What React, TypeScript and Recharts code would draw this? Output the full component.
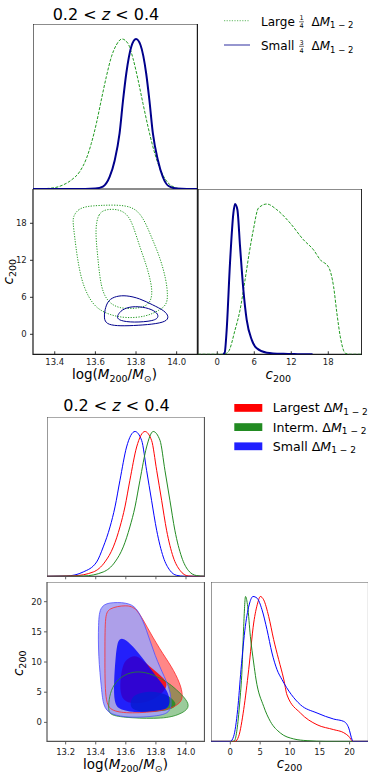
import React from 'react';
import { ComposedChart, Line, Area, XAxis, YAxis, ReferenceArea } from 'recharts';

type Pt = [number, number];
const rows = (pts: Pt[]) => pts.map(([x, y]) => ({ x, y }));

const FONT = '"DejaVu Sans", "Liberation Sans", sans-serif';

// ---------- tick values ----------
const upperMassTicks = [13.4, 13.6, 13.8, 14.0];
const upperConcTicks = [0, 6, 12, 18];
const lowerMassTicks = [13.2, 13.4, 13.6, 13.8, 14.0];
const lowerConcTicks = [0, 5, 10, 15, 20];

// ---------- axis ranges ----------
const upperMassRange: [number, number] = [13.293, 14.102];
const upperConcRange: [number, number] = [-3.24, 23.56];
const upperConcRangeX: [number, number] = [-3.13, 23.42];
const densityRange: [number, number] = [0, 1.1];
const lowerMassRange: [number, number] = [13.076, 14.123];
const lowerConcRange: [number, number] = [-3.15, 23.26];
const lowerConcRangeX: [number, number] = [-3.24, 23.17];

// ---------- upper figure: 1D marginals ----------
const upperMassLarge: Pt[] = [
  [13.293, 0], [13.342, 0.002], [13.4, 0.009], [13.441, 0.027], [13.482, 0.06], [13.523, 0.116],
  [13.556, 0.204], [13.58, 0.304], [13.605, 0.438], [13.629, 0.593], [13.654, 0.749], [13.679, 0.882],
  [13.703, 0.96], [13.731, 1.0], [13.76, 0.971], [13.785, 0.871], [13.81, 0.727], [13.834, 0.571],
  [13.859, 0.415], [13.883, 0.282], [13.908, 0.171], [13.932, 0.093], [13.957, 0.042], [13.982, 0.016],
  [14.015, 0.002], [14.05, 0], [14.102, 0],
];
const upperMassSmall: Pt[] = [
  [13.293, 0], [13.55, 0], [13.6, 0.003], [13.637, 0.016], [13.67, 0.08], [13.695, 0.19], [13.719, 0.37],
  [13.736, 0.59], [13.752, 0.77], [13.777, 0.95], [13.8, 1.0], [13.822, 0.96], [13.85, 0.77], [13.866, 0.59],
  [13.883, 0.37], [13.908, 0.19], [13.932, 0.08], [13.96, 0.02], [14.0, 0.003], [14.05, 0], [14.102, 0],
];
const upperConcLarge: Pt[] = [
  [-3.13, 0], [1.0, 0], [1.79, 0.017], [2.88, 0.162], [3.69, 0.295], [4.5, 0.495], [5.2, 0.68], [5.85, 0.829],
  [6.67, 0.973], [8.03, 1.0], [9.66, 0.962], [11.82, 0.873], [13.98, 0.762], [15.61, 0.695], [16.7, 0.629],
  [18.05, 0.58], [18.86, 0.451], [19.4, 0.273], [19.95, 0.117], [20.76, 0.007], [21.5, 0], [23.42, 0],
];
const upperConcSmall: Pt[] = [
  [0.95, 0], [1.2, 0.01], [1.52, 0.162], [2.06, 0.607], [2.61, 0.94], [2.88, 1.0], [3.26, 0.962], [3.69, 0.718],
  [4.23, 0.429], [4.77, 0.229], [5.59, 0.096], [6.4, 0.04], [8.03, 0.011], [10.74, 0.003], [13.0, 0.001], [15.45, 0],
];

// ---------- upper figure: 2D contours (logM, c200) ----------
const upperLargeOuter: Pt[] = [
  [13.49, 19.08], [13.514, 20.27], [13.556, 20.76], [13.621, 20.9], [13.703, 21.0], [13.785, 20.7],
  [13.834, 19.08], [13.875, 15.84], [13.917, 12.59], [13.949, 8.81], [13.957, 6.11], [13.949, 4.75],
  [13.917, 3.94], [13.851, 2.86], [13.752, 2.59], [13.67, 3.13], [13.605, 4.21], [13.564, 6.11],
  [13.531, 8.81], [13.51, 12.59], [13.498, 15.84], [13.49, 18.0],
];
const upperLargeInner: Pt[] = [
  [13.599, 16.91], [13.613, 19.62], [13.654, 20.32], [13.719, 20.27], [13.76, 19.35], [13.785, 17.73],
  [13.818, 14.22], [13.851, 11.24], [13.875, 8.27], [13.88, 6.38], [13.867, 5.02], [13.834, 4.38],
  [13.785, 4.16], [13.719, 4.21], [13.67, 5.02], [13.637, 6.65], [13.621, 9.35], [13.61, 13.13],
];
const upperSmallOuter: Pt[] = [
  [13.646, 3.94], [13.662, 5.56], [13.703, 6.21], [13.752, 6.32], [13.818, 5.83], [13.883, 4.75],
  [13.941, 3.83], [13.962, 2.86], [13.949, 2.05], [13.883, 1.62], [13.785, 1.4], [13.703, 1.35],
  [13.654, 1.67], [13.642, 2.59],
];
const upperSmallInner: Pt[] = [
  [13.711, 3.13], [13.727, 3.94], [13.777, 4.59], [13.851, 4.38], [13.9, 3.67], [13.913, 2.86],
  [13.892, 2.16], [13.785, 1.89], [13.719, 2.21], [13.706, 2.75],
];

// ---------- lower figure: 1D marginals ----------
const lowerMassLargest: Pt[] = [
  [13.076, 0], [13.25, 0.003], [13.384, 0.03], [13.461, 0.099], [13.517, 0.203], [13.561, 0.341],
  [13.594, 0.479], [13.627, 0.663], [13.672, 0.893], [13.727, 1.0], [13.771, 0.939], [13.805, 0.732],
  [13.838, 0.525], [13.871, 0.318], [13.915, 0.133], [13.96, 0.041], [14.015, 0.002], [14.05, 0], [14.123, 0],
];
const lowerMassInterm: Pt[] = [
  [13.076, 0], [13.317, 0.002], [13.45, 0.03], [13.528, 0.099], [13.583, 0.203], [13.627, 0.341],
  [13.661, 0.479], [13.694, 0.663], [13.738, 0.893], [13.782, 1.0], [13.827, 0.939], [13.86, 0.732],
  [13.893, 0.525], [13.926, 0.318], [13.971, 0.133], [14.015, 0.041], [14.07, 0.005], [14.123, 0],
];
const lowerMassSmall: Pt[] = [
  [13.076, 0], [13.207, 0.002], [13.317, 0.03], [13.406, 0.099], [13.45, 0.203], [13.495, 0.341],
  [13.528, 0.479], [13.561, 0.663], [13.605, 0.893], [13.661, 1.0], [13.705, 0.939], [13.738, 0.732],
  [13.771, 0.525], [13.805, 0.318], [13.849, 0.133], [13.893, 0.041], [13.937, 0.007], [13.99, 0], [14.123, 0],
];
const lowerConcLargest: Pt[] = [
  [-3.24, 0], [0.8, 0], [1.4, 0.035], [2.24, 0.219], [3.08, 0.495], [3.92, 0.817], [4.59, 0.955], [5.03, 1.0],
  [5.59, 0.977], [6.43, 0.863], [7.27, 0.702], [8.11, 0.564], [8.95, 0.43], [9.51, 0.32], [11.75, 0.196],
  [14.54, 0.115], [17.34, 0.081], [19.02, 0.06], [19.86, 0.035], [20.58, 0], [23.17, 0],
];
const lowerConcInterm: Pt[] = [
  [-3.24, 0], [0.4, 0], [0.7, 0.005], [1.12, 0.081], [1.57, 0.265], [1.96, 0.495], [2.24, 0.794], [2.55, 1.0],
  [2.91, 0.932], [3.36, 0.725], [3.92, 0.541], [4.3, 0.43], [5.59, 0.242], [6.71, 0.138], [8.39, 0.058],
  [10.63, 0.017], [12.87, 0.005], [16.0, 0], [23.17, 0],
];
const lowerConcSmall: Pt[] = [
  [-3.24, 0], [0, 0], [0.56, 0.035], [1.23, 0.219], [1.79, 0.495], [2.52, 0.794], [3.24, 0.955], [3.8, 1.0],
  [4.47, 0.989], [5.31, 0.909], [6.15, 0.771], [6.99, 0.61], [7.83, 0.495], [8.67, 0.426], [11.75, 0.253],
  [14.54, 0.196], [17.34, 0.154], [19.02, 0.138], [19.86, 0.092], [20.42, 0.012], [20.6, 0], [23.17, 0],
];

// ---------- lower figure: filled 2D contours ----------
const lowerLargestOuter: Pt[] = [
  [13.461, 17.57], [13.483, 18.95], [13.605, 19.5], [13.672, 18.95], [13.738, 15.92], [13.827, 12.05],
  [13.904, 9.29], [13.96, 6.54], [13.982, 4.33], [13.96, 2.95], [13.849, 1.84], [13.627, 1.46],
  [13.506, 1.84], [13.461, 3.22], [13.461, 10.95],
];
const lowerLargestInner: Pt[] = [
  [13.6, 10.4], [13.66, 11.2], [13.705, 10.5], [13.775, 8.9], [13.85, 7.4], [13.878, 6.4],
  [13.858, 5.2], [13.8, 3.9], [13.694, 3.0], [13.59, 3.3], [13.56, 4.9], [13.565, 7.6], [13.58, 9.4],
];
const lowerIntermOuter: Pt[] = [
  [13.683, 8.58], [13.782, 7.92], [13.871, 6.81], [13.937, 5.43], [14.004, 3.78], [14.026, 2.4],
  [13.96, 1.29], [13.849, 0.57], [13.627, 0.73], [13.495, 1.13], [13.483, 2.12], [13.49, 4.33],
  [13.517, 6.26], [13.583, 7.92],
];
const lowerIntermInner: Pt[] = [
  [13.627, 3.22], [13.649, 4.6], [13.738, 5.15], [13.827, 4.99], [13.893, 4.33], [13.937, 3.22],
  [13.926, 2.4], [13.849, 1.84], [13.716, 1.67], [13.638, 2.12],
];
const lowerSmallOuter: Pt[] = [
  [13.428, 19.5], [13.517, 19.94], [13.627, 19.78], [13.683, 18.68], [13.738, 15.36], [13.794, 10.95],
  [13.86, 7.36], [13.893, 5.43], [13.904, 3.22], [13.893, 1.56], [13.805, 1.01], [13.627, 0.73],
  [13.495, 1.29], [13.45, 2.67], [13.439, 5.43], [13.417, 10.95], [13.417, 16.47],
];
const lowerSmallInner: Pt[] = [
  [13.565, 14.0], [13.61, 13.6], [13.685, 11.5], [13.752, 9.29], [13.818, 7.09], [13.872, 5.43],
  [13.895, 3.78], [13.888, 2.5], [13.835, 1.85], [13.694, 1.55], [13.555, 2.0], [13.522, 3.22],
  [13.52, 6.54], [13.532, 10.95], [13.545, 13.4],
];

// ---------- colours ----------
const GREEN_U = '#1f9a1f';
const NAVY = '#00008b';
const RED = '#ff0000';
const GREEN = '#228b22';
const BLUE = '#0000ff';
const LAVENDER = '#a4a2f4';

// ---------- tick renderers ----------
type Dir = 'in' | 'out';

const makeXTick = (dir: Dir, len: number, showLabel: boolean, gap: number, color: string, digits: number) =>
  (p: any) => {
    const { x, y, payload } = p;
    const end = dir === 'in' ? y - len : y + len;
    return (
      <g>
        <line x1={x} x2={x} y1={y} y2={end} stroke={color} strokeWidth={0.9} />
        {showLabel ? (
          <text x={x} y={y + gap} textAnchor="middle" fontFamily={FONT} fontSize={8.5} fill="#222">
            {Number(payload.value).toFixed(digits)}
          </text>
        ) : null}
      </g>
    );
  };

const makeYTick = (side: 'left' | 'right', dir: Dir, len: number, showLabel: boolean, gap: number, color: string) =>
  (p: any) => {
    const { x, y, payload } = p;
    const outward = side === 'left' ? -1 : 1;
    const end = dir === 'out' ? x + outward * len : x - outward * len;
    return (
      <g>
        <line x1={x} x2={end} y1={y} y2={y} stroke={color} strokeWidth={0.9} />
        {showLabel ? (
          <text x={x - gap} y={y} dy="0.36em" textAnchor="end" fontFamily={FONT} fontSize={8.5} fill="#222">
            {payload.value}
          </text>
        ) : null}
      </g>
    );
  };

type PanelProps = {
  left: number;
  top: number;
  w: number;
  h: number;
  xDomain: [number, number];
  yDomain: [number, number];
  xTicks: number[];
  yTicks?: number[];
  xLabels?: boolean;
  dirX: Dir;
  dirY?: Dir;
  mirrorY?: boolean;
  leftSpace?: number;
  bottomSpace?: number;
  frame: string;
  frameWidth: number;
  gapX?: number;
  gapY?: number;
  digits: number;
  children?: React.ReactNode;
};

function Panel(props: PanelProps) {
  const {
    left, top, w, h, xDomain, yDomain, xTicks, yTicks, xLabels = false, dirX, dirY = 'out', mirrorY = false,
    leftSpace = 0, bottomSpace = 0, frame, frameWidth, gapX = 11, gapY = 6, digits, children,
  } = props;
  const W = w + leftSpace;
  const H = h + bottomSpace;
  return (
    <div style={{ position: 'absolute', left: left - leftSpace, top, width: W, height: H }}>
      <ComposedChart width={W} height={H} margin={{ top: 0, right: 0, bottom: 0, left: 0 }}>
        <XAxis
          type="number"
          dataKey="x"
          domain={xDomain}
          ticks={xTicks}
          allowDataOverflow
          interval={0}
          height={bottomSpace}
          tickSize={0}
          tickMargin={0}
          axisLine={false}
          tickLine={false}
          tick={makeXTick(dirX, 3, xLabels, gapX, frame, digits)}
        />
        <YAxis
          type="number"
          domain={yDomain}
          ticks={yTicks}
          allowDataOverflow
          interval={0}
          width={leftSpace}
          hide={!yTicks}
          tickSize={0}
          tickMargin={0}
          axisLine={false}
          tickLine={false}
          tick={makeYTick('left', dirY, 3, true, gapY, frame)}
        />
        {mirrorY ? (
          <YAxis
            yAxisId="mirror"
            orientation="right"
            type="number"
            domain={yDomain}
            ticks={yTicks}
            allowDataOverflow
            interval={0}
            width={0}
            tickSize={0}
            tickMargin={0}
            axisLine={false}
            tickLine={false}
            tick={makeYTick('right', 'in', 3, false, 0, frame)}
          />
        ) : null}
        {children}
        <ReferenceArea
          x1={xDomain[0]}
          x2={xDomain[1]}
          y1={yDomain[0]}
          y2={yDomain[1]}
          ifOverflow="visible"
          fill="none"
          stroke={frame}
          strokeWidth={frameWidth}
        />
      </ComposedChart>
    </div>
  );
}

const curve = (pts: Pt[], stroke: string, width: number, dash?: string) => (
  <Line
    data={rows(pts)}
    dataKey="y"
    type="monotone"
    stroke={stroke}
    strokeWidth={width}
    strokeDasharray={dash}
    dot={false}
    activeDot={false}
    isAnimationActive={false}
  />
);

const contourLine = (pts: Pt[], stroke: string, width: number, dash?: string) => (
  <Line
    data={rows(pts)}
    dataKey="y"
    type="basisClosed"
    stroke={stroke}
    strokeWidth={width}
    strokeDasharray={dash}
    dot={false}
    activeDot={false}
    isAnimationActive={false}
  />
);

const contourFill = (pts: Pt[], color: string, opacity: number) => (
  <Area
    data={rows(pts)}
    dataKey="y"
    type="basisClosed"
    fill={color}
    fillOpacity={opacity}
    stroke="none"
    dot={false}
    activeDot={false}
    isAnimationActive={false}
  />
);

const UPPER_FRAME = '#1a1a1a';
const LOWER_FRAME = '#555555';

const SubDM = ({ size = 8.5 }: { size?: number }) => (
  <>
    {'Δ'}
    <tspan fontStyle="italic">M</tspan>
    <tspan fontSize={size} dy={2.5}>{'1 − 2'}</tspan>
  </>
);

function Labels() {
  const t = { fontFamily: FONT, fill: '#000' } as const;
  return (
    <svg
      width={369}
      height={774}
      style={{ position: 'absolute', left: 0, top: 0, pointerEvents: 'none' }}
    >
      {/* titles */}
      <text x={52.7} y={20} fontSize={16} {...t}>
        {'0.2 < '}<tspan fontStyle="italic">z</tspan>{' < 0.4'}
      </text>
      <text x={63.3} y={410.7} fontSize={16} {...t}>
        {'0.2 < '}<tspan fontStyle="italic">z</tspan>{' < 0.4'}
      </text>

      {/* upper legend */}
      <line x1={224} x2={250} y1={20.7} y2={20.7} stroke={GREEN_U} strokeOpacity={0.55} strokeWidth={1.3} strokeDasharray="1.2 1.4" />
      <text x={261} y={25.5} fontSize={12} {...t}>Large</text>
      <text x={301.5} y={20.3} fontSize={6.5} textAnchor="middle" {...t}>1</text>
      <line x1={299.1} x2={303.9} y1={21.8} y2={21.8} stroke="#000" strokeWidth={0.6} />
      <text x={301.5} y={28.3} fontSize={6.5} textAnchor="middle" {...t}>4</text>
      <text x={311.5} y={25.5} fontSize={12} {...t}><SubDM /></text>

      <line x1={224} x2={250} y1={45} y2={45} stroke={NAVY} strokeOpacity={0.55} strokeWidth={1.5} />
      <text x={261} y={50} fontSize={12} {...t}>Small</text>
      <text x={301.5} y={44.8} fontSize={6.5} textAnchor="middle" {...t}>3</text>
      <line x1={299.1} x2={303.9} y1={46.3} y2={46.3} stroke="#000" strokeWidth={0.6} />
      <text x={301.5} y={52.8} fontSize={6.5} textAnchor="middle" {...t}>4</text>
      <text x={311.5} y={50} fontSize={12} {...t}><SubDM /></text>

      {/* lower legend */}
      <rect x={234.3} y={404} width={28} height={7.8} fill={RED} />
      <rect x={234.3} y={423.2} width={28} height={7.8} fill={GREEN} />
      <rect x={234.3} y={442.4} width={28} height={7.8} fill="#2020ff" />
      <text x={272.7} y={412.3} fontSize={12.6} {...t}>{'Largest '}<SubDM size={9} /></text>
      <text x={272.7} y={431.5} fontSize={12.6} {...t}>{'Interm. '}<SubDM size={9} /></text>
      <text x={272.7} y={450.7} fontSize={12.6} {...t}>{'Small '}<SubDM size={9} /></text>

      {/* upper axis labels */}
      <text x={114.5} y={379} fontSize={13.5} textAnchor="middle" {...t}>
        {'log('}<tspan fontStyle="italic">M</tspan><tspan fontSize={9.5} dy={3}>200</tspan><tspan dy={-3}>/</tspan><tspan fontStyle="italic">M</tspan><tspan fontSize={9.5} dy={3}>⊙</tspan><tspan dy={-3}>)</tspan>
      </text>
      <text x={278.3} y={379} fontSize={13.5} textAnchor="middle" {...t}>
        <tspan fontStyle="italic">c</tspan><tspan fontSize={9.5} dy={3}>200</tspan>
      </text>
      <text x={13.5} y={271.7} fontSize={13.5} textAnchor="middle" transform="rotate(-90 13.5 271.7)" {...t}>
        <tspan fontStyle="italic">c</tspan><tspan fontSize={9.5} dy={3}>200</tspan>
      </text>

      {/* lower axis labels */}
      <text x={125.5} y={768.5} fontSize={13.5} textAnchor="middle" {...t}>
        {'log('}<tspan fontStyle="italic">M</tspan><tspan fontSize={9.5} dy={3}>200</tspan><tspan dy={-3}>/</tspan><tspan fontStyle="italic">M</tspan><tspan fontSize={9.5} dy={3}>⊙</tspan><tspan dy={-3}>)</tspan>
      </text>
      <text x={289.5} y={768} fontSize={13.5} textAnchor="middle" {...t}>
        <tspan fontStyle="italic">c</tspan><tspan fontSize={9.5} dy={3}>200</tspan>
      </text>
      <text x={23} y={663.3} fontSize={13.5} textAnchor="middle" transform="rotate(-90 23 663.3)" {...t}>
        <tspan fontStyle="italic">c</tspan><tspan fontSize={9.5} dy={3}>200</tspan>
      </text>
    </svg>
  );
}

export default function App() {
  return (
    <div style={{ position: 'absolute', left: 0, top: 0, width: 369, height: 774, background: '#fff', overflow: 'hidden' }}>
      {/* ===== upper corner plot ===== */}
      <Panel left={33.3} top={24} w={164.4} h={165} xDomain={upperMassRange} yDomain={densityRange}
        xTicks={upperMassTicks} dirX="in" frame={UPPER_FRAME} frameWidth={1.2} digits={1}>
        {curve(upperMassLarge, GREEN_U, 1, '3 1.5')}
        {curve(upperMassSmall, NAVY, 2)}
      </Panel>
      <Panel left={33.3} top={189} w={164.4} h={165.3} xDomain={upperMassRange} yDomain={upperConcRange}
        xTicks={upperMassTicks} yTicks={upperConcTicks} xLabels dirX="in" dirY="out" mirrorY
        leftSpace={34} bottomSpace={16} gapX={11.2} gapY={6.3} frame={UPPER_FRAME} frameWidth={1.2} digits={1}>
        {contourLine(upperLargeOuter, GREEN_U, 1, '1.2 1.4')}
        {contourLine(upperLargeInner, GREEN_U, 1, '1.2 1.4')}
        {contourLine(upperSmallOuter, NAVY, 1)}
        {contourLine(upperSmallInner, NAVY, 1)}
      </Panel>
      <Panel left={198} top={189} w={163.7} h={165.3} xDomain={upperConcRangeX} yDomain={densityRange}
        xTicks={upperConcTicks} xLabels dirX="in" bottomSpace={16} gapX={11.2}
        frame={UPPER_FRAME} frameWidth={1.2} digits={0}>
        {curve(upperConcLarge, GREEN_U, 1, '3 1.5')}
        {curve(upperConcSmall, NAVY, 2)}
      </Panel>

      {/* ===== lower corner plot ===== */}
      <Panel left={47} top={416.7} w={157.5} h={159.3} xDomain={lowerMassRange} yDomain={densityRange}
        xTicks={lowerMassTicks} dirX="out" bottomSpace={5} frame={LOWER_FRAME} frameWidth={1.2} digits={1}>
        {curve(lowerMassSmall, BLUE, 1)}
        {curve(lowerMassLargest, RED, 1)}
        {curve(lowerMassInterm, GREEN, 1)}
      </Panel>
      <Panel left={47} top={582.3} w={157.5} h={159.4} xDomain={lowerMassRange} yDomain={lowerConcRange}
        xTicks={lowerMassTicks} yTicks={lowerConcTicks} xLabels dirX="out" dirY="out"
        leftSpace={47} bottomSpace={18} gapX={13.3} gapY={5} frame={LOWER_FRAME} frameWidth={1.2} digits={1}>
        {/* outer (2-sigma) regions */}
        {contourFill(lowerLargestOuter, RED, 0.47)}
        {contourFill(lowerIntermOuter, GREEN, 0.45)}
        {contourFill(lowerSmallOuter, LAVENDER, 0.9)}
        {contourLine(lowerLargestOuter, '#ff2a2a', 0.8)}
        {contourLine(lowerIntermOuter, GREEN, 0.8)}
        {contourLine(lowerSmallOuter, '#5050ff', 0.8)}
        {/* inner (1-sigma) regions */}
        {contourFill(lowerLargestInner, RED, 0.85)}
        {contourFill(lowerIntermInner, GREEN, 0.85)}
        {contourFill(lowerSmallInner, BLUE, 0.8)}
      </Panel>
      <Panel left={210.7} top={582.3} w={157.5} h={159.4} xDomain={lowerConcRangeX} yDomain={densityRange}
        xTicks={lowerConcTicks} xLabels dirX="out" bottomSpace={18} gapX={13.3}
        frame={LOWER_FRAME} frameWidth={1.2} digits={0}>
        {curve(lowerConcLargest, RED, 1)}
        {curve(lowerConcInterm, GREEN, 1)}
        {curve(lowerConcSmall, BLUE, 1)}
      </Panel>

      <Labels />
    </div>
  );
}
